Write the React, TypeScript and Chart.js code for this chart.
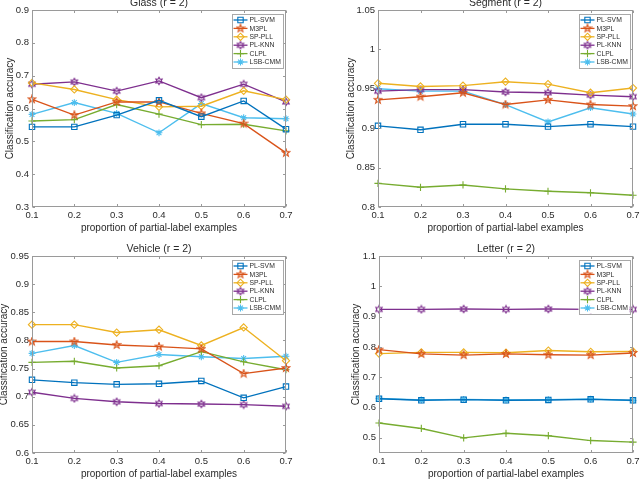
import React, { useEffect, useRef } from 'react';
import { Chart, registerables } from 'chart.js';
import { drawPoint } from 'chart.js/helpers';

Chart.register(...registerables);

// ---------- data ----------
const xLabels = ['0.1', '0.2', '0.3', '0.4', '0.5', '0.6', '0.7'];
const seriesNames = ['PL-SVM', 'M3PL', 'SP-PLL', 'PL-KNN', 'CLPL', 'LSB-CMM'];
const seriesColors = ['#0072BD', '#D95319', '#EDB120', '#7E2F8E', '#77AC30', '#4DBEEE'];

const glassTitle = 'Glass (r = 2)';
const glassYTicks = [0.3, 0.4, 0.5, 0.6, 0.7, 0.8, 0.9];
const glassPLSVM = [0.544, 0.544, 0.58, 0.625, 0.575, 0.623, 0.537];
const glassM3PL = [0.628, 0.58, 0.62, 0.62, 0.585, 0.554, 0.465];
const glassSPPLL = [0.678, 0.658, 0.627, 0.605, 0.607, 0.654, 0.627];
const glassPLKNN = [0.674, 0.681, 0.653, 0.684, 0.633, 0.674, 0.62];
const glassCLPL = [0.562, 0.566, 0.612, 0.583, 0.551, 0.552, 0.532];
const glassLSBCMM = [0.582, 0.618, 0.585, 0.526, 0.615, 0.572, 0.569];

const segmentTitle = 'Segment (r = 2)';
const segmentYTicks = [0.8, 0.85, 0.9, 0.95, 1, 1.05];
const segmentPLSVM = [0.903, 0.898, 0.905, 0.905, 0.902, 0.905, 0.902];
const segmentM3PL = [0.936, 0.94, 0.945, 0.93, 0.936, 0.93, 0.928];
const segmentSPPLL = [0.957, 0.953, 0.954, 0.959, 0.956, 0.945, 0.951];
const segmentPLKNN = [0.947, 0.949, 0.949, 0.946, 0.945, 0.942, 0.94];
const segmentCLPL = [0.83, 0.825, 0.828, 0.823, 0.82, 0.818, 0.815];
const segmentLSBCMM = [0.95, 0.947, 0.947, 0.93, 0.908, 0.926, 0.918];

const vehicleTitle = 'Vehicle (r = 2)';
const vehicleYTicks = [0.6, 0.65, 0.7, 0.75, 0.8, 0.85, 0.9, 0.95];
const vehiclePLSVM = [0.73, 0.725, 0.722, 0.723, 0.728, 0.698, 0.718];
const vehicleM3PL = [0.798, 0.798, 0.792, 0.789, 0.785, 0.741, 0.751];
const vehicleSPPLL = [0.828, 0.828, 0.814, 0.819, 0.791, 0.823, 0.764];
const vehiclePLKNN = [0.708, 0.697, 0.691, 0.688, 0.687, 0.686, 0.683];
const vehicleCLPL = [0.761, 0.763, 0.751, 0.755, 0.78, 0.762, 0.748];
const vehicleLSBCMM = [0.777, 0.791, 0.761, 0.775, 0.771, 0.768, 0.772];

const letterTitle = 'Letter (r = 2)';
const letterYTicks = [0.5, 0.6, 0.7, 0.8, 0.9, 1, 1.1];
const letterPLSVM = [0.629, 0.624, 0.626, 0.624, 0.625, 0.627, 0.624];
const letterM3PL = [0.791, 0.777, 0.773, 0.777, 0.774, 0.773, 0.78];
const letterSPPLL = [0.778, 0.782, 0.782, 0.781, 0.788, 0.784, 0.785];
const letterPLKNN = [0.924, 0.924, 0.925, 0.924, 0.925, 0.924, 0.924];
const letterCLPL = [0.549, 0.531, 0.5, 0.515, 0.507, 0.491, 0.486];
const letterLSBCMM = [0.63, 0.625, 0.627, 0.625, 0.626, 0.628, 0.623];

const xTitle = 'proportion of partial-label examples';
const yTitle = 'Classification accuracy';

// ---------- styling ----------
const FONT = '"Liberation Sans", Arial, Helvetica, sans-serif';
const TEXT = '#2b2b2b';
const BOX = '#9a9a9a';

function starImage(color: string, n: number, outer: number, inner: number) {
  const size = 10;
  const c = document.createElement('canvas');
  c.width = size;
  c.height = size;
  const ctx = c.getContext('2d')!;
  ctx.translate(size / 2, size / 2);
  ctx.beginPath();
  for (let i = 0; i < 2 * n; i++) {
    const a = -Math.PI / 2 + (i * Math.PI) / n;
    const r = i % 2 === 0 ? outer : inner;
    const px = Math.cos(a) * r;
    const py = Math.sin(a) * r;
    if (i === 0) ctx.moveTo(px, py);
    else ctx.lineTo(px, py);
  }
  ctx.closePath();
  ctx.strokeStyle = color;
  ctx.lineWidth = 1.1;
  ctx.lineJoin = 'miter';
  ctx.stroke();
  return c;
}

function markerStyles(): any[] {
  return [
    { pointStyle: 'rect', radius: 3.8 },
    { pointStyle: starImage(seriesColors[1], 5, 4.0, 1.6), radius: 3.5 },
    { pointStyle: 'rectRot', radius: 3.6 },
    { pointStyle: starImage(seriesColors[3], 6, 3.7, 2.1), radius: 3.5 },
    { pointStyle: 'cross', radius: 3.6 },
    { pointStyle: 'star', radius: 3.4 },
  ];
}

const framePlugin = {
  id: 'matlabFrame',
  afterDraw(chart: any) {
    const { ctx, chartArea } = chart;
    const { left, right, top, bottom } = chartArea;
    const xs = chart.scales.x;
    const ys = chart.scales.y;
    ctx.save();
    ctx.strokeStyle = BOX;
    ctx.lineWidth = 1;
    const L = Math.round(left) + 0.5;
    const R = Math.round(right) - 0.5;
    const T = Math.round(top) + 0.5;
    const B = Math.round(bottom) - 0.5;
    ctx.strokeRect(L, T, R - L, B - T);
    const tl = 2.5;
    ctx.beginPath();
    xs.ticks.forEach((_t: any, i: number) => {
      const px = Math.round(xs.getPixelForTick(i)) + 0.5;
      ctx.moveTo(px, B);
      ctx.lineTo(px, B - tl);
      ctx.moveTo(px, T);
      ctx.lineTo(px, T + tl);
    });
    ys.ticks.forEach((t: any) => {
      const py = Math.round(ys.getPixelForValue(t.value)) + 0.5;
      ctx.moveTo(L, py);
      ctx.lineTo(L + tl, py);
      ctx.moveTo(R, py);
      ctx.lineTo(R - tl, py);
    });
    ctx.stroke();

    // legend box
    const lw = 51;
    const lh = 54;
    const lx = right - 3.5 - lw;
    const ly = top + 3.5;
    ctx.fillStyle = '#ffffff';
    ctx.fillRect(lx, ly, lw, lh);
    ctx.strokeStyle = '#a8a8a8';
    ctx.strokeRect(Math.round(lx) + 0.5, Math.round(ly) + 0.5, lw, lh);
    ctx.font = '6.8px ' + FONT;
    ctx.textBaseline = 'middle';
    ctx.textAlign = 'left';
    chart.data.datasets.forEach((ds: any, i: number) => {
      const ry = ly + 6.5 + i * 8.4;
      ctx.strokeStyle = ds.borderColor;
      ctx.lineWidth = 1.3;
      ctx.beginPath();
      ctx.moveTo(lx + 2, ry);
      ctx.lineTo(lx + 16, ry);
      ctx.stroke();
      ctx.fillStyle = 'rgba(0,0,0,0)';
      ctx.lineWidth = 1.1;
      drawPoint(ctx, { pointStyle: ds.pointStyle, radius: ds.pointRadius, borderWidth: 1.1, rotation: 0 } as any, lx + 9, ry);
      ctx.fillStyle = TEXT;
      ctx.fillText(ds.label, lx + 18, ry + 0.3);
    });
    ctx.restore();
  },
};

type PanelProps = {
  left: number;
  top: number;
  width: number;
  height: number;
  yWidth: number;
  rightPad: number;
  yTitlePad: number;
  title: string;
  yMin: number;
  yMax: number;
  yTicks: number[];
  series: number[][];
};

function Panel(p: PanelProps) {
  const ref = useRef<HTMLCanvasElement | null>(null);
  useEffect(() => {
    const canvas = ref.current;
    if (!canvas) return;
    const markers = markerStyles();
    const chart = new Chart(canvas, {
      type: 'line',
      data: {
        labels: xLabels,
        datasets: p.series.map((vals, i) => ({
          label: seriesNames[i],
          data: vals,
          borderColor: seriesColors[i],
          backgroundColor: 'rgba(0,0,0,0)',
          borderWidth: 1.4,
          pointStyle: markers[i].pointStyle,
          pointRadius: markers[i].radius,
          pointBorderWidth: 1.1,
          pointBorderColor: seriesColors[i],
          pointBackgroundColor: 'rgba(0,0,0,0)',
          tension: 0,
          clip: false as any,
        })),
      },
      options: {
        responsive: false,
        animation: false,
        devicePixelRatio: 1,
        layout: { padding: { left: 0, right: p.rightPad, top: 0, bottom: 0 } },
        plugins: {
          legend: { display: false },
          tooltip: { enabled: false },
          title: {
            display: true,
            text: p.title,
            fullSize: false,
            color: TEXT,
            font: { family: FONT, size: 10.5, weight: 'normal' as any },
            padding: { top: 7.1, bottom: 0.3 },
          },
        },
        scales: {
          x: {
            type: 'category',
            offset: false,
            grid: { display: false, drawTicks: false },
            border: { display: false },
            ticks: {
              color: TEXT,
              font: { family: FONT, size: 9.5 },
              padding: 2.5,
              maxRotation: 0,
              autoSkip: false,
            },
            title: {
              display: true,
              text: xTitle,
              color: TEXT,
              font: { family: FONT, size: 10 },
              padding: { top: 0, bottom: 5.5 },
            },
            afterFit: (s: any) => {
              s.height = 33;
            },
          },
          y: {
            type: 'linear',
            min: p.yMin,
            max: p.yMax,
            grid: { display: false, drawTicks: false },
            border: { display: false },
            afterBuildTicks: (s: any) => {
              s.ticks = p.yTicks.map((v) => ({ value: v }));
            },
            ticks: {
              color: TEXT,
              font: { family: FONT, size: 9.5 },
              padding: 3,
              callback: (v: any) => String(+Number(v).toFixed(2)),
            },
            title: {
              display: true,
              text: yTitle,
              color: TEXT,
              font: { family: FONT, size: 10 },
              padding: { top: p.yTitlePad, bottom: 0 },
            },
            afterFit: (s: any) => {
              s.width = p.yWidth;
            },
          },
        },
      },
      plugins: [framePlugin],
    });
    return () => chart.destroy();
  }, []);
  return (
    <canvas
      ref={ref}
      width={p.width}
      height={p.height}
      style={{ position: 'absolute', left: p.left, top: p.top, width: p.width, height: p.height }}
    />
  );
}

export default function App() {
  return (
    <div
      style={{
        position: 'absolute',
        left: 0,
        top: 0,
        width: 640,
        height: 480,
        overflow: 'hidden',
        background: '#ffffff',
      }}
    >
      <Panel
        left={0}
        top={-10}
        width={320}
        height={250}
        yWidth={32}
        rightPad={34}
        yTitlePad={4.3}
        title={glassTitle}
        yMin={0.3}
        yMax={0.9}
        yTicks={glassYTicks}
        series={[glassPLSVM, glassM3PL, glassSPPLL, glassPLKNN, glassCLPL, glassLSBCMM]}
      />
      <Panel
        left={320}
        top={-10}
        width={340}
        height={250}
        yWidth={58}
        rightPad={27}
        yTitlePad={25.3}
        title={segmentTitle}
        yMin={0.8}
        yMax={1.05}
        yTicks={segmentYTicks}
        series={[segmentPLSVM, segmentM3PL, segmentSPPLL, segmentPLKNN, segmentCLPL, segmentLSBCMM]}
      />
      <Panel
        left={0}
        top={236}
        width={320}
        height={250}
        yWidth={32}
        rightPad={34}
        yTitlePad={-1.8}
        title={vehicleTitle}
        yMin={0.6}
        yMax={0.95}
        yTicks={vehicleYTicks}
        series={[vehiclePLSVM, vehicleM3PL, vehicleSPPLL, vehiclePLKNN, vehicleCLPL, vehicleLSBCMM]}
      />
      <Panel
        left={320}
        top={236}
        width={340}
        height={250}
        yWidth={59}
        rightPad={27}
        yTitlePad={30.5}
        title={letterTitle}
        yMin={0.45}
        yMax={1.1}
        yTicks={letterYTicks}
        series={[letterPLSVM, letterM3PL, letterSPPLL, letterPLKNN, letterCLPL, letterLSBCMM]}
      />
    </div>
  );
}
